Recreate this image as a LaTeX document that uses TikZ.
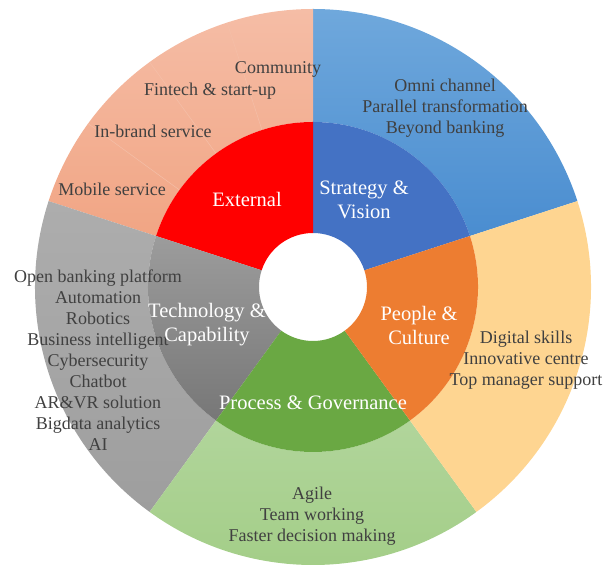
\documentclass[tikz,border=0pt]{standalone}
\usepackage{fontspec}
\setmainfont{Liberation Serif}
\usetikzlibrary{calc}
\definecolor{txt}{HTML}{404040}
\definecolor{blueIn}{HTML}{4472C4}
\definecolor{blueOutT}{HTML}{6FA8DC}
\definecolor{blueOutB}{HTML}{4A8DD0}
\definecolor{redIn}{HTML}{FF0000}
\definecolor{salT}{HTML}{F5BDA6}
\definecolor{salB}{HTML}{F1A584}
\definecolor{salLine}{HTML}{F4BFA8}
\definecolor{grayInT}{HTML}{9C9C9C}
\definecolor{grayInB}{HTML}{777777}
\definecolor{grayOutT}{HTML}{ADADAD}
\definecolor{grayOutB}{HTML}{9E9E9E}
\definecolor{greenIn}{HTML}{6AA843}
\definecolor{greenOutT}{HTML}{B1D59B}
\definecolor{greenOutB}{HTML}{A2CD86}
\definecolor{orangeIn}{HTML}{ED7D31}
\definecolor{yellowOut}{HTML}{FED591}
\newcommand\annsec[5]{%
  \path[#1] ($(c)+(#2:#5)$) arc[start angle=#2, end angle=#3, radius=#5]
    -- ($(c)+(#3:#4)$) arc[start angle=#3, end angle=#2, radius=#4] -- cycle;}
\begin{document}
\begin{tikzpicture}[x=1pt,y=1pt,
  outerlbl/.style={font=\fontsize{18}{21}\selectfont, text=txt, align=center, inner sep=0pt},
  innerlbl/.style={font=\fontsize{20.5}{24}\selectfont, text=white, align=center, inner sep=0pt}]
\useasboundingbox (0,0) rectangle (604,569);
\coordinate (c) at (313,282);
% outer ring
\annsec{top color=blueOutT, bottom color=blueOutB}{18}{90}{165}{278}
\annsec{top color=salT, bottom color=salB}{90}{162}{165}{278}
\annsec{top color=grayOutT, bottom color=grayOutB}{162}{234}{165}{278}
\annsec{top color=greenOutT, bottom color=greenOutB}{234}{306}{165}{278}
\annsec{fill=yellowOut}{-54}{18}{165}{278}
% separators in external outer ring
\foreach \a in {108,126,144}{
  \draw[salLine, line width=0.5pt] ($(c)+(\a:165)$) -- ($(c)+(\a:278)$);}
% inner ring
\annsec{fill=blueIn}{18}{90}{54}{165}
\annsec{fill=redIn}{90}{162}{54}{165}
\annsec{top color=grayInT, bottom color=grayInB}{162}{234}{54}{165}
\annsec{fill=greenIn}{234}{306}{54}{165}
\annsec{fill=orangeIn}{-54}{18}{54}{165}
% outer labels
\node[outerlbl] (comm) at (278,500) {Community};
\node[outerlbl] (fin) at (210,478) {Fintech \& start-up};
\node[outerlbl] (inb) at (153,438) {In-brand service};
\node[outerlbl] (mob) at (112,380) {Mobile service};
\node[outerlbl] (omni) at (445,461) {Omni channel\\Parallel transformation\\Beyond banking};
\node[outerlbl] (tech) at (98,209) {Open banking platform\\Automation\\Robotics\\Business intelligent\\Cybersecurity\\Chatbot\\AR\&VR solution\\Bigdata analytics\\AI};
\node[outerlbl] (ppl) at (526,209) {Digital skills\\Innovative centre\\Top manager support};
\node[outerlbl] (agile) at (312,53) {Agile\\Team working\\Faster decision making};
% inner labels
\node[innerlbl] (ext) at (247,370) {External};
\node[innerlbl] (strat) at (364,369) {Strategy \&\\Vision};
\node[innerlbl] (techin) at (207,244) {Technology \&\\Capability};
\node[innerlbl] (pplin) at (419,244) {People \&\\Culture};
\node[innerlbl] (proc) at (313,166) {Process \& Governance};
\end{tikzpicture}
\end{document}
